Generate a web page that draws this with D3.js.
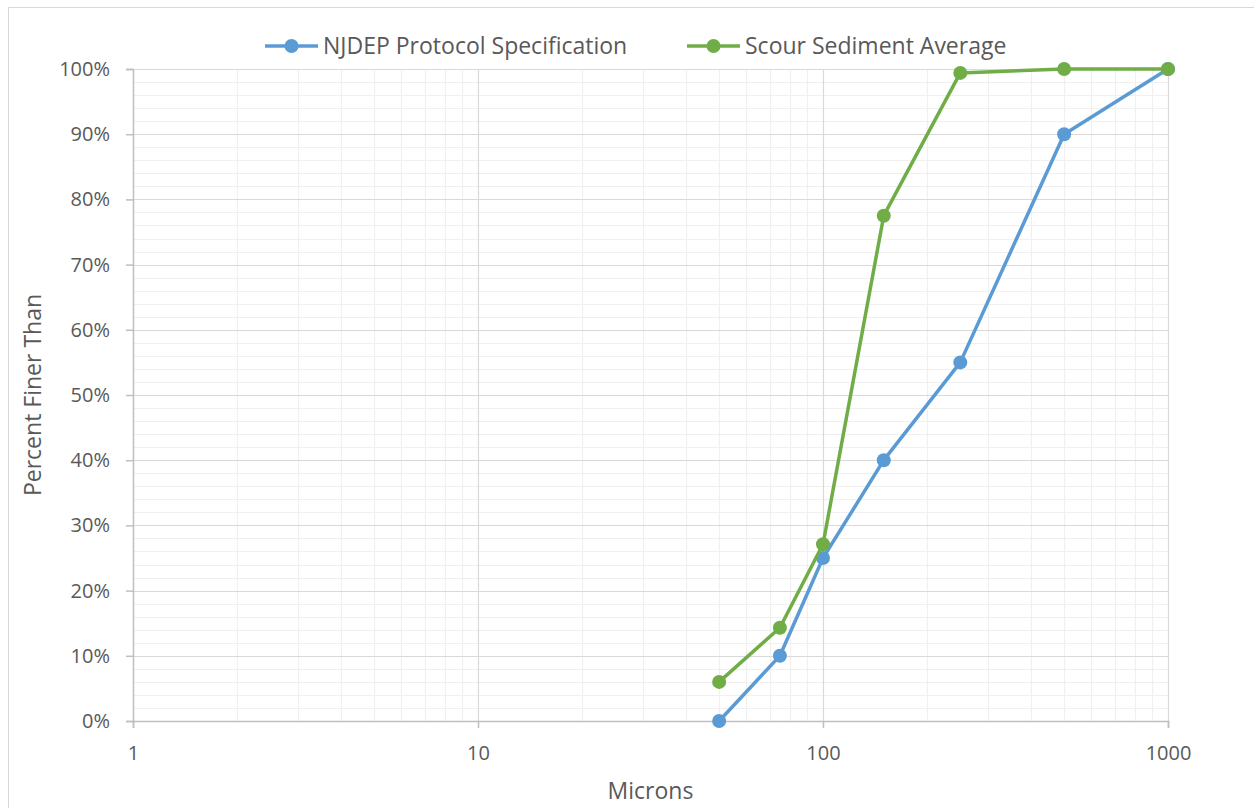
<!DOCTYPE html>
<html>
<head>
<meta charset="utf-8">
<script src="https://cdn.jsdelivr.net/npm/d3@7"></script>
<style>
  body { margin: 0; background: #fff; }
  text { font-family: "Open Sans", "Liberation Sans", sans-serif; fill: #595959; }
</style>
</head>
<body>
<div id="chart"></div>
<script>
// data
const microns = [50, 75, 100, 150, 250, 500, 1000]
const njdep = [0, 0.10, 0.25, 0.40, 0.55, 0.90, 1.00]
const scour = [0.06, 0.143, 0.271, 0.775, 0.994, 1.00, 1.00]
const seriesNames = ['NJDEP Protocol Specification', 'Scour Sediment Average']
const seriesColors = ['#5b9bd5', '#70ad47']
const xTicks = [1, 10, 100, 1000]
const yTicks = [0, 0.1, 0.2, 0.3, 0.4, 0.5, 0.6, 0.7, 0.8, 0.9, 1.0]

const width = 1254
const height = 808
const margin = {left: 133, right: 86, top: 69, bottom: 87}

const svg = d3.select('#chart')
  .append('svg')
  .attr('width', width)
  .attr('height', height)

// chart border
svg.append('rect')
  .attr('x', 8.5).attr('y', 7.5)
  .attr('width', width - 8).attr('height', height)
  .attr('fill', 'none')
  .attr('stroke', '#d9d9d9')

const x = d3.scaleLog()
  .domain([1, 1000])
  .range([margin.left, width - margin.right])
const y = d3.scaleLinear()
  .domain([0, 1])
  .range([height - margin.bottom, margin.top])

const grid = svg.append('g')

// minor gridlines
const minorX = []
for (let d = 1; d < 1000; d *= 10) {
  for (let k = 2; k <= 9; k++) minorX.push(d * k)
}
grid.selectAll('.minor-x')
  .data(minorX)
  .join('line')
  .attr('x1', d => Math.round(x(d)) + 0.5)
  .attr('x2', d => Math.round(x(d)) + 0.5)
  .attr('y1', y(0))
  .attr('y2', y(1))
  .attr('stroke', '#f0f0f0')
  .attr('stroke-width', 1.2)

const minorY = d3.range(0, 1.0001, 0.02).filter((d, i) => i % 5 !== 0)
grid.selectAll('.minor-y')
  .data(minorY)
  .join('line')
  .attr('x1', x(1))
  .attr('x2', x(1000))
  .attr('y1', d => Math.round(y(d)) + 0.5)
  .attr('y2', d => Math.round(y(d)) + 0.5)
  .attr('stroke', '#f0f0f0')
  .attr('stroke-width', 1.2)

// major gridlines
grid.selectAll('.major-x')
  .data(xTicks.slice(1))
  .join('line')
  .attr('x1', d => Math.round(x(d)) + 0.5)
  .attr('x2', d => Math.round(x(d)) + 0.5)
  .attr('y1', y(0))
  .attr('y2', y(1))
  .attr('stroke', '#d9d9d9')
  .attr('stroke-width', 1.2)

grid.selectAll('.major-y')
  .data(yTicks.slice(1))
  .join('line')
  .attr('x1', x(1))
  .attr('x2', x(1000))
  .attr('y1', d => Math.round(y(d)) + 0.5)
  .attr('y2', d => Math.round(y(d)) + 0.5)
  .attr('stroke', '#d9d9d9')
  .attr('stroke-width', 1.2)

// axes
const xAxis = d3.axisBottom(x)
  .tickValues(xTicks)
  .tickFormat(d3.format('d'))
  .tickSize(7)
  .tickPadding(18)
const yAxis = d3.axisLeft(y)
  .tickValues(yTicks)
  .tickFormat(d3.format('.0%'))
  .tickSize(7)
  .tickPadding(16)

const gx = svg.append('g')
  .attr('transform', `translate(0, ${y(0)})`)
  .call(xAxis)
const gy = svg.append('g')
  .attr('transform', `translate(${x(1)}, 0)`)
  .call(yAxis)

;[gx, gy].forEach(g => {
  g.select('.domain').attr('stroke', '#bfbfbf').attr('stroke-width', 1.5)
  g.selectAll('.tick line').attr('stroke', '#bfbfbf').attr('stroke-width', 1.5)
  g.selectAll('.tick text')
    .style('font-family', '"Open Sans", sans-serif')
    .style('font-size', '20px')
    .attr('fill', '#595959')
})

// axis titles
svg.append('text')
  .attr('x', (x(1) + x(1000)) / 2)
  .attr('y', 799)
  .attr('text-anchor', 'middle')
  .style('font-size', '23px')
  .text('Microns')

svg.append('text')
  .attr('transform', `translate(41, ${(y(0) + y(1)) / 2}) rotate(-90)`)
  .attr('text-anchor', 'middle')
  .style('font-size', '23px')
  .text('Percent Finer Than')

// series
const series = [njdep, scour].map((vals, i) => ({
  name: seriesNames[i],
  color: seriesColors[i],
  points: microns.map((m, j) => ({m, v: vals[j]}))
}))

const line = d3.line()
  .x(d => x(d.m))
  .y(d => y(d.v))

const sg = svg.selectAll('.series')
  .data(series)
  .join('g')

sg.append('path')
  .attr('d', d => line(d.points))
  .attr('fill', 'none')
  .attr('stroke', d => d.color)
  .attr('stroke-width', 3.5)
  .attr('stroke-linejoin', 'round')

sg.selectAll('circle')
  .data(d => d.points.map(p => ({...p, color: d.color})))
  .join('circle')
  .attr('cx', d => x(d.m))
  .attr('cy', d => y(d.v))
  .attr('r', 7)
  .attr('fill', d => d.color)

// legend
const legendX = [265, 687]
const lg = svg.selectAll('.legend')
  .data(series)
  .join('g')
  .attr('transform', (d, i) => `translate(${legendX[i]}, 46)`)
lg.append('line')
  .attr('x1', 0).attr('x2', 53)
  .attr('stroke', d => d.color)
  .attr('stroke-width', 3.5)
lg.append('circle')
  .attr('cx', 26.5)
  .attr('r', 7)
  .attr('fill', d => d.color)
lg.append('text')
  .attr('x', 58)
  .attr('dy', '0.35em')
  .style('font-size', '23px')
  .text(d => d.name)
</script>
</body>
</html>
